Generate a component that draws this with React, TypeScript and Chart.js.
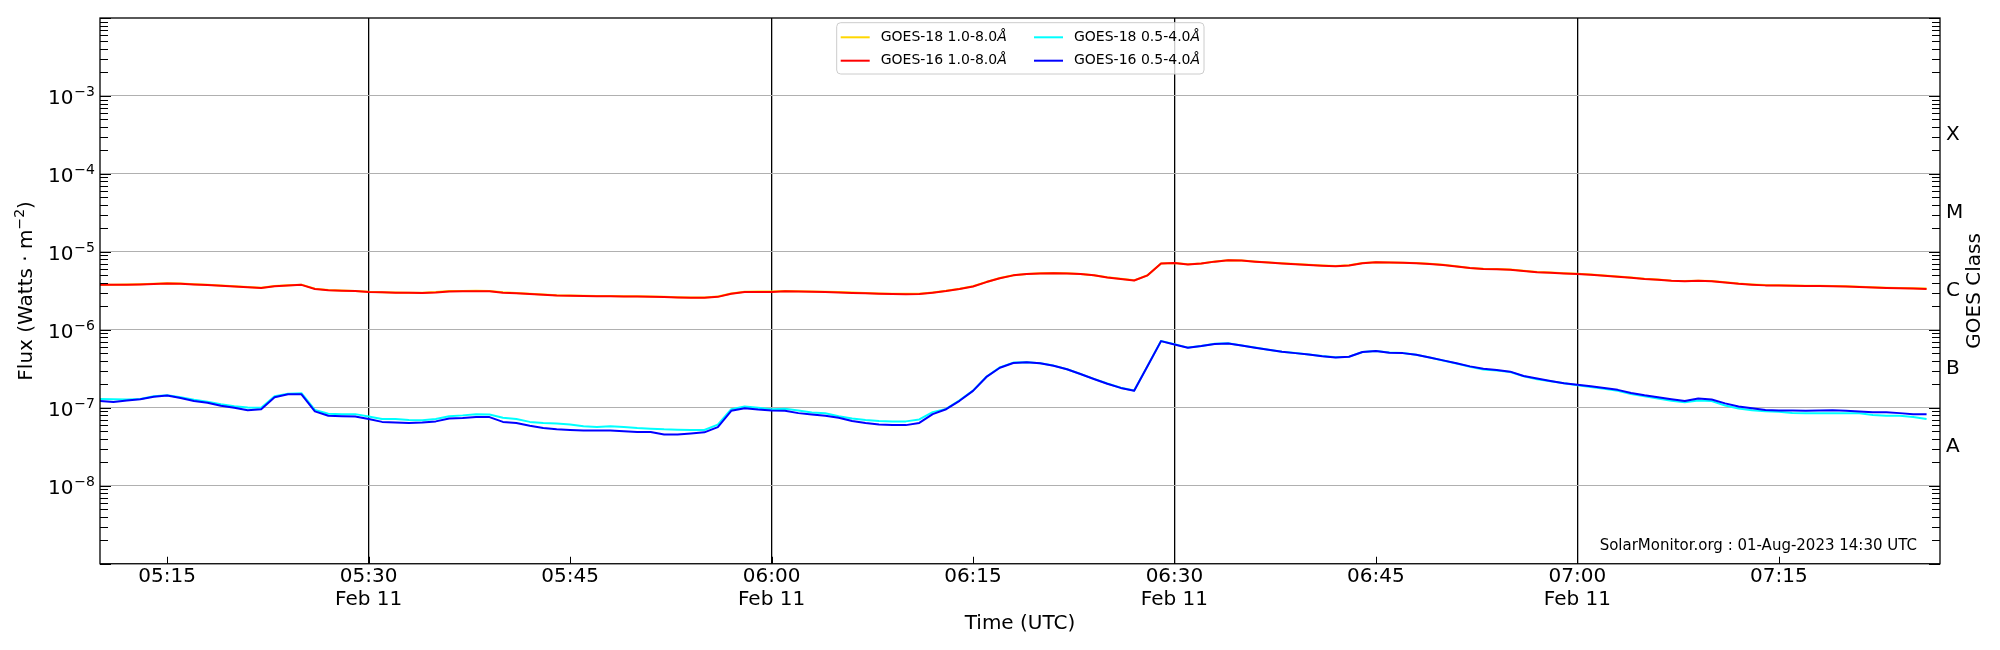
import { useEffect, useRef } from "react";
import { Chart, registerables } from "chart.js";
import type { Plugin } from "chart.js";

Chart.register(...registerables);

// sample times (UTC, 1-minute cadence)
const times = [
   "05:10", "05:11", "05:12", "05:13", "05:14", "05:15", "05:16", "05:17", "05:18", "05:19",
   "05:20", "05:21", "05:22", "05:23", "05:24", "05:25", "05:26", "05:27", "05:28", "05:29",
   "05:30", "05:31", "05:32", "05:33", "05:34", "05:35", "05:36", "05:37", "05:38", "05:39",
   "05:40", "05:41", "05:42", "05:43", "05:44", "05:45", "05:46", "05:47", "05:48", "05:49",
   "05:50", "05:51", "05:52", "05:53", "05:54", "05:55", "05:56", "05:57", "05:58", "05:59",
   "06:00", "06:01", "06:02", "06:03", "06:04", "06:05", "06:06", "06:07", "06:08", "06:09",
   "06:10", "06:11", "06:12", "06:13", "06:14", "06:15", "06:16", "06:17", "06:18", "06:19",
   "06:20", "06:21", "06:22", "06:23", "06:24", "06:25", "06:26", "06:27", "06:28", "06:29",
   "06:30", "06:31", "06:32", "06:33", "06:34", "06:35", "06:36", "06:37", "06:38", "06:39",
   "06:40", "06:41", "06:42", "06:43", "06:44", "06:45", "06:46", "06:47", "06:48", "06:49",
   "06:50", "06:51", "06:52", "06:53", "06:54", "06:55", "06:56", "06:57", "06:58", "06:59",
   "07:00", "07:01", "07:02", "07:03", "07:04", "07:05", "07:06", "07:07", "07:08", "07:09",
   "07:10", "07:11", "07:12", "07:13", "07:14", "07:15", "07:16", "07:17", "07:18", "07:19",
   "07:20", "07:21", "07:22", "07:23", "07:24", "07:25", "07:26",
];

// 1.0-8.0 Å flux, in units of 1e-6 W/m²
const LONG_UNIT = 1e-6;
const goes18Long = [
   3.80, 3.80, 3.82, 3.85, 3.90, 3.96, 3.93, 3.85, 3.78, 3.70,
   3.62, 3.55, 3.48, 3.65, 3.73, 3.80, 3.38, 3.25, 3.20, 3.16,
   3.08, 3.04, 3.01, 3.00, 3.00, 3.05, 3.14, 3.16, 3.17, 3.16,
   3.03, 2.97, 2.90, 2.84, 2.78, 2.76, 2.74, 2.72, 2.71, 2.70,
   2.69, 2.67, 2.65, 2.62, 2.60, 2.60, 2.68, 2.93, 3.08, 3.10,
   3.10, 3.15, 3.13, 3.11, 3.08, 3.05, 3.01, 2.97, 2.93, 2.91,
   2.90, 2.91, 3.02, 3.17, 3.37, 3.62, 4.12, 4.62, 5.02, 5.22,
   5.32, 5.35, 5.32, 5.22, 5.02, 4.72, 4.52, 4.32, 5.02, 7.12,
   7.22, 6.92, 7.12, 7.52, 7.82, 7.78, 7.53, 7.33, 7.13, 6.98,
   6.83, 6.68, 6.58, 6.73, 7.18, 7.38, 7.33, 7.28, 7.18, 7.03,
   6.83, 6.53, 6.23, 6.08, 6.03, 5.93, 5.73, 5.53, 5.43, 5.33,
   5.23, 5.13, 4.98, 4.83, 4.68, 4.53, 4.43, 4.28, 4.23, 4.28,
   4.23, 4.08, 3.93, 3.83, 3.75, 3.73, 3.71, 3.69, 3.68, 3.66,
   3.63, 3.58, 3.53, 3.48, 3.45, 3.41, 3.38,
];
const goes16Long = [
   3.78, 3.78, 3.80, 3.82, 3.86, 3.92, 3.90, 3.82, 3.75, 3.68,
   3.60, 3.52, 3.45, 3.62, 3.70, 3.78, 3.35, 3.22, 3.18, 3.14,
   3.07, 3.03, 3.00, 2.99, 2.98, 3.02, 3.10, 3.12, 3.13, 3.13,
   3.00, 2.95, 2.88, 2.82, 2.76, 2.74, 2.72, 2.70, 2.69, 2.68,
   2.67, 2.65, 2.63, 2.60, 2.58, 2.58, 2.65, 2.90, 3.05, 3.07,
   3.07, 3.12, 3.10, 3.08, 3.05, 3.02, 2.98, 2.94, 2.90, 2.88,
   2.87, 2.88, 3.00, 3.15, 3.35, 3.60, 4.10, 4.60, 5.00, 5.20,
   5.30, 5.33, 5.30, 5.20, 5.00, 4.70, 4.50, 4.30, 5.00, 7.10,
   7.20, 6.90, 7.10, 7.50, 7.80, 7.75, 7.50, 7.30, 7.10, 6.95,
   6.80, 6.65, 6.55, 6.70, 7.15, 7.35, 7.30, 7.25, 7.15, 7.00,
   6.80, 6.50, 6.20, 6.05, 6.00, 5.90, 5.70, 5.50, 5.40, 5.30,
   5.20, 5.10, 4.95, 4.80, 4.65, 4.50, 4.40, 4.25, 4.20, 4.25,
   4.20, 4.05, 3.90, 3.80, 3.72, 3.70, 3.68, 3.66, 3.65, 3.63,
   3.60, 3.55, 3.50, 3.45, 3.42, 3.38, 3.35,
];

// 0.5-4.0 Å flux, in units of 1e-7 W/m²
const SHORT_UNIT = 1e-7;
const goes18Short = [
   1.30, 1.29, 1.28, 1.30, 1.41, 1.45, 1.37, 1.27, 1.20, 1.11,
   1.05, 1.01, 1.00, 1.41, 1.52, 1.54, 0.94, 0.84, 0.83, 0.83,
   0.775, 0.72, 0.72, 0.70, 0.695, 0.72, 0.78, 0.80, 0.83, 0.82,
   0.745, 0.72, 0.66, 0.64, 0.63, 0.61, 0.58, 0.566, 0.58, 0.566,
   0.55, 0.54, 0.53, 0.525, 0.52, 0.52, 0.61, 0.96, 1.04, 1.00,
   0.96, 0.97, 0.925, 0.87, 0.85, 0.78, 0.73, 0.70, 0.68, 0.67,
   0.67, 0.71, 0.88, 0.97, 1.25, 1.66, 2.50, 3.30, 3.80, 3.85,
   3.74, 3.48, 3.13, 2.72, 2.35, 2.05, 1.81, 1.67, 3.45, 7.20,
   6.52, 5.92, 6.22, 6.62, 6.72, 6.32, 5.92, 5.56, 5.25, 5.04,
   4.84, 4.61, 4.44, 4.53, 5.20, 5.36, 5.11, 5.04, 4.79, 4.42,
   4.04, 3.70, 3.37, 3.11, 3.00, 2.88, 2.54, 2.32, 2.19, 2.06,
   1.95, 1.85, 1.76, 1.65, 1.50, 1.41, 1.32, 1.23, 1.18, 1.24,
   1.22, 1.07, 0.98, 0.934, 0.905, 0.89, 0.86, 0.855, 0.855, 0.85,
   0.85, 0.85, 0.81, 0.79, 0.79, 0.76, 0.717,
];
const goes16Short = [
   1.22, 1.19, 1.24, 1.29, 1.39, 1.44, 1.34, 1.22, 1.16, 1.06,
   1.00, 0.93, 0.96, 1.37, 1.49, 1.49, 0.90, 0.79, 0.78, 0.775,
   0.72, 0.66, 0.65, 0.64, 0.65, 0.67, 0.73, 0.74, 0.76, 0.76,
   0.66, 0.64, 0.59, 0.55, 0.53, 0.52, 0.51, 0.51, 0.51, 0.50,
   0.49, 0.49, 0.456, 0.456, 0.47, 0.485, 0.566, 0.915, 0.99, 0.95,
   0.925, 0.915, 0.855, 0.82, 0.79, 0.745, 0.676, 0.637, 0.61, 0.60,
   0.60, 0.64, 0.83, 0.96, 1.23, 1.65, 2.49, 3.27, 3.75, 3.83,
   3.72, 3.47, 3.12, 2.71, 2.34, 2.04, 1.80, 1.66, 3.43, 7.17,
   6.50, 5.90, 6.20, 6.60, 6.70, 6.30, 5.90, 5.55, 5.24, 5.03,
   4.83, 4.60, 4.43, 4.52, 5.19, 5.35, 5.10, 5.03, 4.78, 4.43,
   4.06, 3.72, 3.40, 3.18, 3.05, 2.91, 2.56, 2.37, 2.21, 2.06,
   1.97, 1.89, 1.80, 1.70, 1.55, 1.45, 1.37, 1.29, 1.22, 1.32,
   1.28, 1.14, 1.04, 0.99, 0.94, 0.925, 0.925, 0.915, 0.925, 0.93,
   0.915, 0.90, 0.88, 0.88, 0.855, 0.83, 0.83,
];

// axes
const xStart = "05:10";
const xEnd = "07:27";
const xTickLabels = ["05:15", "05:30", "05:45", "06:00", "06:15", "06:30", "06:45", "07:00", "07:15"];
const dateLabel = "Feb 11";
const decadeExponents = [-8, -7, -6, -5, -4, -3];
const classLetters = ["A", "B", "C", "M", "X"];
const classCenters = [3.162e-8, 3.162e-7, 3.162e-6, 3.162e-5, 3.162e-4];
const footnote = "SolarMonitor.org : 01-Aug-2023 14:30 UTC";

const FONT = "'DejaVu Sans', Verdana, sans-serif";

const toMinutes = (s: string) => Number(s.slice(0, 2)) * 60 + Number(s.slice(3, 5));
const isHalfHour = (s: string) => s.endsWith(":00") || s.endsWith(":30");

const series = [
   { label: "GOES-18 1.0-8.0Å", values: goes18Long, unit: LONG_UNIT, color: "#ffd700", order: 4 },
   { label: "GOES-16 1.0-8.0Å", values: goes16Long, unit: LONG_UNIT, color: "#ff0000", order: 3 },
   { label: "GOES-18 0.5-4.0Å", values: goes18Short, unit: SHORT_UNIT, color: "#00ffff", order: 2 },
   { label: "GOES-16 0.5-4.0Å", values: goes16Short, unit: SHORT_UNIT, color: "#0000ff", order: 1 },
];

const goesDecor: Plugin<"line"> = {
   id: "goesDecor",
   afterDraw(chart) {
      const { ctx, chartArea: a } = chart;
      const ys = chart.scales.y;
      const xs = chart.scales.x;
      ctx.save();

      // inward log ticks on both sides
      ctx.strokeStyle = "#000";
      ctx.lineWidth = 1;
      for (let e = -9; e <= -2; e++) {
         for (let m = 1; m <= 9; m++) {
            if (e === -2 && m > 1) break;
            const py = ys.getPixelForValue(m * Math.pow(10, e));
            if (py < a.top - 0.5 || py > a.bottom + 0.5) continue;
            const y = Math.round(py) + 0.5;
            const len = m === 1 ? 11 : 8;
            ctx.beginPath();
            ctx.moveTo(a.left, y);
            ctx.lineTo(a.left + len, y);
            ctx.moveTo(a.right, y);
            ctx.lineTo(a.right - len, y);
            ctx.stroke();
         }
      }

      // inward x ticks
      for (const t of xTickLabels) {
         const x = Math.round(xs.getPixelForValue(toMinutes(t))) + 0.5;
         ctx.beginPath();
         ctx.moveTo(x, a.bottom);
         ctx.lineTo(x, a.bottom - 7);
         ctx.stroke();
      }

      // frame
      ctx.lineWidth = 1.3;
      ctx.strokeRect(a.left, a.top, a.right - a.left, a.bottom - a.top);

      // left tick labels 10^n
      ctx.fillStyle = "#000";
      ctx.textBaseline = "alphabetic";
      ctx.textAlign = "left";
      for (const e of decadeExponents) {
         const y = ys.getPixelForValue(Math.pow(10, e));
         const exp = "\u2212" + Math.abs(e);
         ctx.font = `14px ${FONT}`;
         const ew = ctx.measureText(exp).width;
         ctx.font = `20px ${FONT}`;
         const bw = ctx.measureText("10").width;
         const right = a.left - 5;
         ctx.fillText("10", right - ew - bw - 1, y + 8);
         ctx.font = `14px ${FONT}`;
         ctx.fillText(exp, right - ew, y);
      }

      // left axis title with superscript
      const midY = (a.top + a.bottom) / 2;
      ctx.save();
      ctx.translate(25, midY);
      ctx.rotate(-Math.PI / 2);
      const p1 = "Flux (Watts \u00b7 m";
      const p2 = "\u22122";
      const p3 = ")";
      ctx.font = `20px ${FONT}`;
      const w1 = ctx.measureText(p1).width;
      const w3 = ctx.measureText(p3).width;
      ctx.font = `14px ${FONT}`;
      const w2 = ctx.measureText(p2).width;
      let tx = -(w1 + w2 + w3) / 2;
      ctx.font = `20px ${FONT}`;
      ctx.fillText(p1, tx, 7);
      tx += w1;
      ctx.font = `14px ${FONT}`;
      ctx.fillText(p2, tx, -1);
      tx += w2;
      ctx.font = `20px ${FONT}`;
      ctx.fillText(p3, tx, 7);
      ctx.restore();

      // right axis title
      ctx.save();
      ctx.translate(1975, midY);
      ctx.rotate(-Math.PI / 2);
      ctx.font = `20px ${FONT}`;
      ctx.textAlign = "center";
      ctx.textBaseline = "middle";
      ctx.fillText("GOES Class", 0, 0);
      ctx.restore();

      // footnote
      ctx.font = `15px ${FONT}`;
      ctx.textAlign = "right";
      ctx.textBaseline = "middle";
      ctx.fillText(footnote, a.right - 23, a.bottom - 18);

      // legend (two columns, filled column-wise)
      const bx = 836.7, by = 22.7, bw = 367.3, bh = 51.3;
      ctx.beginPath();
      ctx.roundRect(bx, by, bw, bh, 4);
      ctx.fillStyle = "rgba(255,255,255,0.8)";
      ctx.fill();
      ctx.strokeStyle = "#cccccc";
      ctx.lineWidth = 1;
      ctx.stroke();
      const colX = [840.7, 1034];
      const rowY = [37.3, 60.7];
      ctx.textAlign = "left";
      ctx.textBaseline = "middle";
      chart.data.datasets.forEach((ds, i) => {
         const cx = colX[Math.floor(i / 2)];
         const cy = rowY[i % 2];
         ctx.strokeStyle = ds.borderColor as string;
         ctx.lineWidth = 2;
         ctx.beginPath();
         ctx.moveTo(cx, cy);
         ctx.lineTo(cx + 29, cy);
         ctx.stroke();
         const label = ds.label ?? "";
         const main = label.endsWith("Å") ? label.slice(0, -1) : label;
         ctx.fillStyle = "#000";
         ctx.font = `14px ${FONT}`;
         ctx.fillText(main, cx + 40, cy);
         if (main !== label) {
            const mw = ctx.measureText(main).width;
            ctx.font = `italic 14px ${FONT}`;
            ctx.fillText("Å", cx + 40 + mw, cy);
         }
      });

      ctx.restore();
   },
};

export default function App() {
   const canvasRef = useRef<HTMLCanvasElement | null>(null);
   const chartRef = useRef<Chart | null>(null);

   useEffect(() => {
      if (!canvasRef.current) return;
      chartRef.current?.destroy();

      Chart.defaults.font.family = FONT;
      Chart.defaults.color = "#000";

      const xs = times.map(toMinutes);
      const tickValues = xTickLabels.map(toMinutes);

      chartRef.current = new Chart(canvasRef.current, {
         type: "line",
         data: {
            datasets: series.map((s) => ({
               label: s.label,
               data: s.values.map((v, i) => ({ x: xs[i], y: v * s.unit })),
               borderColor: s.color,
               backgroundColor: s.color,
               borderWidth: 2,
               borderJoinStyle: "round",
               pointRadius: 0,
               tension: 0,
               fill: false,
               order: s.order,
            })),
         },
         options: {
            animation: false,
            responsive: false,
            events: [],
            layout: { padding: { top: 15.4, left: 0, right: 0, bottom: 0 } },
            scales: {
               x: {
                  type: "linear",
                  min: toMinutes(xStart),
                  max: toMinutes(xEnd),
                  afterBuildTicks: (scale) => {
                     scale.ticks = tickValues.map((v) => ({ value: v }));
                  },
                  afterFit: (scale) => {
                     scale.height = 86.25;
                  },
                  grid: {
                     color: (c) =>
                        c.tick && isHalfHour(xTickLabels[tickValues.indexOf(c.tick.value)] ?? "")
                           ? "#000"
                           : "rgba(0,0,0,0)",
                     lineWidth: 1.3,
                     drawTicks: false,
                  },
                  border: { display: false },
                  ticks: {
                     autoSkip: false,
                     maxRotation: 0,
                     padding: 2,
                     color: "#000",
                     font: { size: 20, lineHeight: 1.15 },
                     callback: (_v, i) => {
                        const t = xTickLabels[i];
                        return isHalfHour(t) ? [t, dateLabel] : t;
                     },
                  },
                  title: {
                     display: true,
                     text: "Time (UTC)",
                     color: "#000",
                     font: { size: 20, lineHeight: 1.2 },
                     padding: { top: 0, bottom: 14 },
                  },
               },
               y: {
                  type: "logarithmic",
                  position: "left",
                  min: 1e-9,
                  max: 1e-2,
                  afterBuildTicks: (scale) => {
                     scale.ticks = decadeExponents.map((e) => ({ value: Math.pow(10, e) }));
                  },
                  afterFit: (scale) => {
                     scale.width = 100;
                  },
                  grid: { color: "#b0b0b0", lineWidth: 1, drawTicks: false },
                  border: { display: false },
                  ticks: { display: false },
               },
               y2: {
                  type: "logarithmic",
                  position: "right",
                  min: 1e-9,
                  max: 1e-2,
                  afterBuildTicks: (scale) => {
                     scale.ticks = classCenters.map((v) => ({ value: v }));
                  },
                  afterFit: (scale) => {
                     scale.width = 60;
                  },
                  grid: { display: false, drawTicks: false },
                  border: { display: false },
                  ticks: {
                     padding: 6,
                     color: "#000",
                     font: { size: 20 },
                     callback: (_v, i) => classLetters[i],
                  },
               },
            },
            plugins: {
               legend: { display: false },
               tooltip: { enabled: false },
            },
         },
         plugins: [goesDecor],
      });

      return () => {
         chartRef.current?.destroy();
         chartRef.current = null;
      };
   }, []);

   return (
      <div style={{ position: "absolute", left: 0, top: 0, width: 2000, height: 650, background: "#fff" }}>
         <canvas ref={canvasRef} width={2000} height={650} style={{ width: 2000, height: 650 }} />
      </div>
   );
}
